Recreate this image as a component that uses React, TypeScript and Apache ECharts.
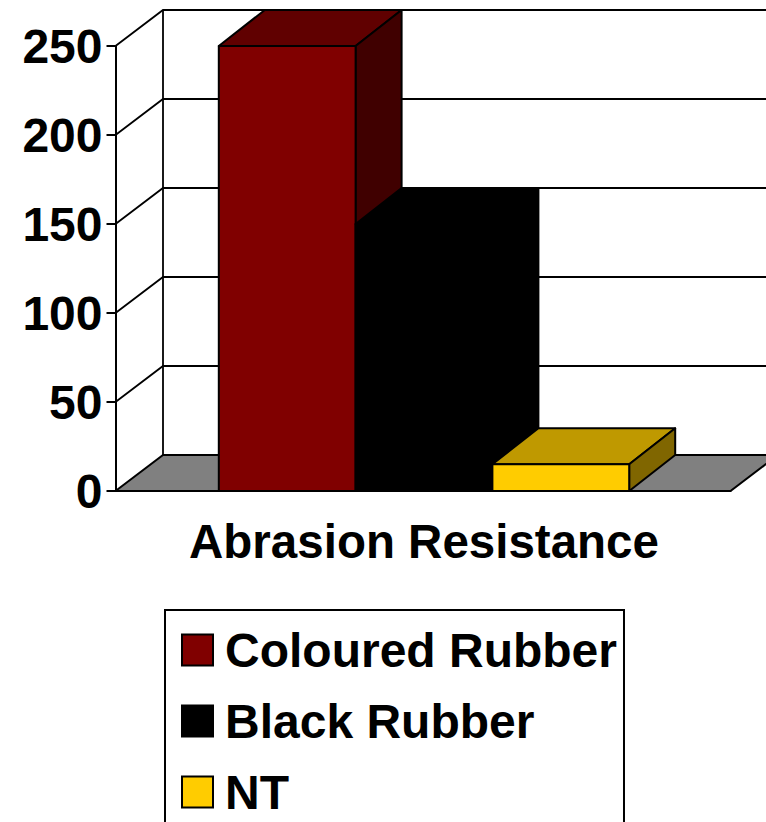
import React, { useEffect, useRef } from "react";
import * as echarts from "echarts";

const categories = ["Abrasion Resistance"];
const seriesNames = ["Coloured Rubber", "Black Rubber", "NT"];
const colouredValues = [250];
const blackValues = [150];
const ntValues = [15];
const yTicks = [0, 50, 100, 150, 200, 250];

const FONT = '"Liberation Sans", Arial, sans-serif';
const WALL_DX = 47.5;
const BAR_DX = 46;
const DY = -36;
const BAR_FRACTION = 136.8 / 615;
const BAR_SHIFT = 1;
const LINE = "#000000";

function wallItem(params: any, api: any) {
  const v = api.value(1);
  const [cx, y] = api.coord([0, v]);
  const band = api.size([1, 0])[0];
  const x0 = cx - band / 2;
  const x1 = cx + band / 2;
  const children: any[] = [];
  const stroke = { stroke: LINE, lineWidth: 1.8, fill: "none" };
  if (v === 0) {
    children.push({
      type: "polygon",
      shape: { points: [[x0, y], [x0 + WALL_DX, y + DY], [x1 + WALL_DX, y + DY], [x1, y]] },
      style: { fill: "#808080", stroke: LINE, lineWidth: 2 },
    });
  } else {
    children.push({
      type: "polyline",
      shape: { points: [[x0, y], [x0 + WALL_DX, y + DY], [x1 + WALL_DX, y + DY]] },
      style: stroke,
    });
  }
  if (v === yTicks[yTicks.length - 1]) {
    const yBase = api.coord([0, 0])[1];
    children.push({
      type: "line",
      shape: { x1: x0 + WALL_DX, y1: y + DY, x2: x0 + WALL_DX, y2: yBase + DY },
      style: stroke,
    });
  }
  return { type: "group", children };
}

function barItem(slot: number, front: string, top: string, side: string) {
  return (params: any, api: any) => {
    const [cx, yTop] = api.coord([0, api.value(1)]);
    const yBase = api.coord([0, 0])[1];
    const band = api.size([1, 0])[0];
    const w = band * BAR_FRACTION;
    const x0 = cx + BAR_SHIFT + (slot - 1.5) * w;
    const x1 = x0 + w;
    const s = { stroke: LINE, lineWidth: 2, lineJoin: "round" };
    return {
      type: "group",
      children: [
        {
          type: "polygon",
          shape: { points: [[x0, yTop], [x0 + BAR_DX, yTop + DY], [x1 + BAR_DX, yTop + DY], [x1, yTop]] },
          style: { fill: top, ...s },
        },
        {
          type: "polygon",
          shape: { points: [[x1, yTop], [x1 + BAR_DX, yTop + DY], [x1 + BAR_DX, yBase + DY], [x1, yBase]] },
          style: { fill: side, ...s },
        },
        {
          type: "polygon",
          shape: { points: [[x0, yTop], [x1, yTop], [x1, yBase], [x0, yBase]] },
          style: { fill: front, ...s },
        },
      ],
    };
  };
}

export default function App() {
  const ref = useRef<HTMLDivElement>(null);
  useEffect(() => {
    document.body.style.margin = "0";
    const chart = echarts.init(ref.current!, undefined, { renderer: "svg" });
    chart.setOption({
      animation: false,
      backgroundColor: "#ffffff",
      grid: { left: 115.5, top: 46, width: 615, height: 445 },
      xAxis: {
        type: "category",
        data: categories,
        axisLine: { lineStyle: { color: LINE, width: 2 } },
        axisTick: { length: 9, lineStyle: { color: LINE, width: 2 } },
        axisLabel: { margin: 26, color: "#000", fontFamily: FONT, fontWeight: "bold", fontSize: 47.5, padding: [0, 0, 0, 2] },
      },
      yAxis: {
        type: "value",
        min: 0,
        max: 250,
        interval: 50,
        splitLine: { show: false },
        axisLine: { show: true, lineStyle: { color: LINE, width: 2 } },
        axisTick: { show: true, length: 9, lineStyle: { color: LINE, width: 2 } },
        axisLabel: { margin: 13, color: "#000", fontFamily: FONT, fontWeight: "bold", fontSize: 48 },
      },
      legend: {
        left: 165,
        top: 610,
        height: 600,
        orient: "vertical",
        align: "left",
        selectedMode: false,
        borderColor: "#000",
        borderWidth: 2,
        backgroundColor: "#fff",
        padding: [16, 7, 60, 16],
        itemWidth: 31,
        itemHeight: 31,
        itemGap: 23,
        textStyle: {
          color: "#000",
          fontFamily: FONT,
          fontWeight: "bold",
          fontSize: 48,
          lineHeight: 48,
          padding: [0, 0, 0, 7],
        },
        data: [
          { name: seriesNames[0], icon: "rect", itemStyle: { color: "#800000", borderColor: "#000", borderWidth: 2 } },
          { name: seriesNames[1], icon: "rect", itemStyle: { color: "#000000", borderColor: "#000", borderWidth: 2 } },
          { name: seriesNames[2], icon: "rect", itemStyle: { color: "#ffcc00", borderColor: "#000", borderWidth: 2 } },
        ],
      },
      series: [
        {
          type: "custom",
          name: "walls",
          z: 1,
          encode: { x: 0, y: 1 },
          data: yTicks.map((v) => [0, v]),
          renderItem: wallItem,
          silent: true,
        },
        {
          type: "custom",
          name: seriesNames[0],
          z: 2,
          encode: { x: 0, y: 1 },
          data: colouredValues.map((v, i) => [i, v]),
          renderItem: barItem(0, "#800000", "#600000", "#400000"),
          itemStyle: { color: "#800000" },
        },
        {
          type: "custom",
          name: seriesNames[1],
          z: 3,
          encode: { x: 0, y: 1 },
          data: blackValues.map((v, i) => [i, v]),
          renderItem: barItem(1, "#000000", "#000000", "#000000"),
          itemStyle: { color: "#000000" },
        },
        {
          type: "custom",
          name: seriesNames[2],
          z: 4,
          encode: { x: 0, y: 1 },
          data: ntValues.map((v, i) => [i, v]),
          renderItem: barItem(2, "#ffcc00", "#bf9900", "#806600"),
          itemStyle: { color: "#ffcc00" },
        },
      ],
    });
    return () => chart.dispose();
  }, []);
  return <div ref={ref} style={{ width: 766, height: 822 }} />;
}
